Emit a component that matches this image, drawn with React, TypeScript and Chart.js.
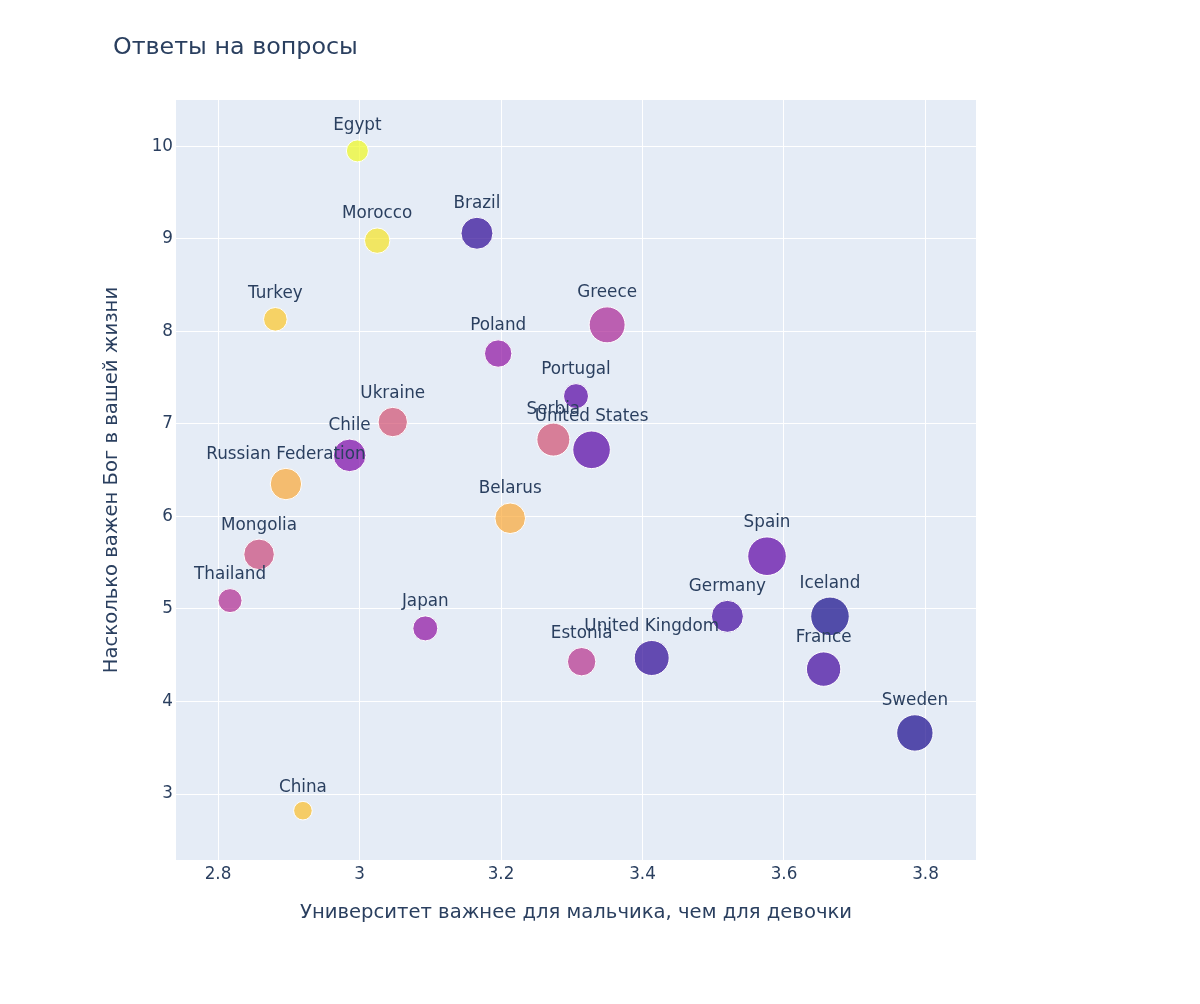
import React, { useEffect, useRef } from "react";
import { Chart, registerables } from "chart.js";

Chart.register(...registerables);

const countries = [
  "Egypt", "Morocco", "Brazil", "Turkey", "Poland", "Greece", "Portugal", "Ukraine",
  "Serbia", "United States", "Chile", "Russian Federation", "Belarus", "Mongolia",
  "Spain", "Thailand", "Germany", "Iceland", "Japan", "United Kingdom", "Estonia",
  "France", "Sweden", "China",
];
const universityValues = [
  2.997, 3.025, 3.166, 2.881, 3.196, 3.350, 3.306, 3.047,
  3.274, 3.328, 2.986, 2.896, 3.213, 2.858,
  3.576, 2.817, 3.520, 3.665, 3.093, 3.413, 3.314,
  3.656, 3.785, 2.920,
];
const godValues = [
  9.95, 8.98, 9.06, 8.13, 7.76, 8.07, 7.30, 7.02,
  6.83, 6.72, 6.66, 6.35, 5.98, 5.59,
  5.57, 5.09, 4.92, 4.92, 4.79, 4.47, 4.43,
  4.35, 3.66, 2.82,
];
const bubbleRadius = [
  11, 12.7, 16, 11.8, 13.7, 18, 12.5, 14.7,
  16.5, 18.8, 16.3, 15.7, 15.3, 15.3,
  19.3, 12, 16, 19.3, 12.5, 17.5, 14.2,
  17.2, 18.2, 9.3,
];
const colorValues = [
  1.0, 0.95, 0.06, 0.88, 0.3, 0.38, 0.15, 0.53,
  0.53, 0.15, 0.25, 0.8, 0.8, 0.5,
  0.17, 0.4, 0.1, 0.01, 0.3, 0.06, 0.42,
  0.1, 0.02, 0.86,
];
const xTicks = [2.8, 3.0, 3.2, 3.4, 3.6, 3.8];
const yTicks = [3, 4, 5, 6, 7, 8, 9, 10];

const titleText = "Ответы на вопросы";
const xTitle = "Университет важнее для мальчика, чем для девочки";
const yTitle = "Насколько важен Бог в вашей жизни";

const plasma = [
  "#0d0887", "#46039f", "#7201a8", "#9c179e", "#bd3786",
  "#d8576b", "#ed7953", "#fb9f3a", "#fdca26", "#f0f921",
];

function hexToRgb(h: string) {
  const n = parseInt(h.slice(1), 16);
  return [(n >> 16) & 255, (n >> 8) & 255, n & 255];
}

function plasmaColor(t: number, alpha: number) {
  const v = Math.max(0, Math.min(1, t)) * (plasma.length - 1);
  const i = Math.min(Math.floor(v), plasma.length - 2);
  const f = v - i;
  const a = hexToRgb(plasma[i]);
  const b = hexToRgb(plasma[i + 1]);
  const c = a.map((x, k) => Math.round(x + (b[k] - x) * f));
  return `rgba(${c[0]},${c[1]},${c[2]},${alpha})`;
}

const FONT = "'DejaVu Sans', Verdana, sans-serif";
const TEXT_COLOR = "#2a3f5f";

export default function App() {
  const ref = useRef<HTMLCanvasElement | null>(null);

  useEffect(() => {
    if (!ref.current) return;
    const data = countries.map((c, i) => ({
      x: universityValues[i],
      y: godValues[i],
      r: bubbleRadius[i],
    }));

    const bgPlugin = {
      id: "bgPlugin",
      beforeDraw(chart: any) {
        const { ctx, chartArea } = chart;
        ctx.save();
        ctx.fillStyle = "#ffffff";
        ctx.fillRect(0, 0, chart.width, chart.height);
        ctx.fillStyle = "#e5ecf6";
        ctx.fillRect(chartArea.left, chartArea.top, chartArea.right - chartArea.left, chartArea.bottom - chartArea.top);
        ctx.fillStyle = TEXT_COLOR;
        ctx.font = `23.8px ${FONT}`;
        ctx.textAlign = "left";
        ctx.textBaseline = "middle";
        ctx.fillText(titleText, 113, 48);
        ctx.restore();
      },
    };

    const labelPlugin = {
      id: "labelPlugin",
      afterDatasetsDraw(chart: any) {
        const { ctx } = chart;
        const meta = chart.getDatasetMeta(0);
        ctx.save();
        ctx.fillStyle = TEXT_COLOR;
        ctx.font = `16.8px ${FONT}`;
        ctx.textAlign = "center";
        ctx.textBaseline = "alphabetic";
        meta.data.forEach((el: any, i: number) => {
          const r = bubbleRadius[i];
          ctx.fillText(countries[i], el.x, el.y - r - 9.5);
        });
        ctx.restore();
      },
    };

    const chart = new Chart(ref.current, {
      type: "bubble",
      data: {
        datasets: [
          {
            data,
            backgroundColor: colorValues.map((v) => plasmaColor(v, 0.7)),
            borderColor: "#ffffff",
            borderWidth: 1,
            hoverBorderWidth: 1,
          } as any,
        ],
      },
      options: {
        responsive: false,
        animation: false,
        layout: { padding: { left: 96, right: 224, top: 100, bottom: 76 } },
        plugins: {
          legend: { display: false },
          tooltip: { enabled: false },
          title: { display: false },
        },
        events: [],
        scales: {
          x: {
            type: "linear",
            min: 2.7406,
            max: 3.8714,
            afterFit(scale: any) {
              scale.height = 68;
            },
            afterBuildTicks(scale: any) {
              scale.ticks = xTicks.map((v) => ({ value: v }));
            },
            ticks: {
              autoSkip: false,
              maxRotation: 0,
              padding: 5,
              color: TEXT_COLOR,
              font: { family: FONT, size: 16.8 },
              callback: (v: any) => String(Number(Number(v).toFixed(2))),
            },
            grid: { color: "#ffffff", lineWidth: 1, drawTicks: false },
            border: { display: false },
            title: {
              display: true,
              text: xTitle,
              color: TEXT_COLOR,
              font: { family: FONT, size: 19.6 },
              padding: { top: 4, bottom: 3 },
            },
          },
          y: {
            type: "linear",
            min: 2.287,
            max: 10.5,
            afterFit(scale: any) {
              scale.width = 80;
            },
            afterBuildTicks(scale: any) {
              scale.ticks = yTicks.map((v) => ({ value: v }));
            },
            ticks: {
              autoSkip: false,
              padding: 3,
              color: TEXT_COLOR,
              font: { family: FONT, size: 16.8 },
              callback: (v: any) => String(Number(Number(v).toFixed(2))),
            },
            grid: { color: "#ffffff", lineWidth: 1, drawTicks: false },
            border: { display: false },
            title: {
              display: true,
              text: yTitle,
              color: TEXT_COLOR,
              font: { family: FONT, size: 19.6 },
              padding: { top: 4, bottom: 4 },
            },
          },
        },
      } as any,
      plugins: [bgPlugin, labelPlugin],
    });
    return () => chart.destroy();
  }, []);

  return (
    <div style={{ position: "fixed", left: 0, top: 0, width: 1200, height: 1004, background: "#fff" }}>
      <canvas ref={ref} width={1200} height={1004} style={{ display: "block" }} />
    </div>
  );
}
